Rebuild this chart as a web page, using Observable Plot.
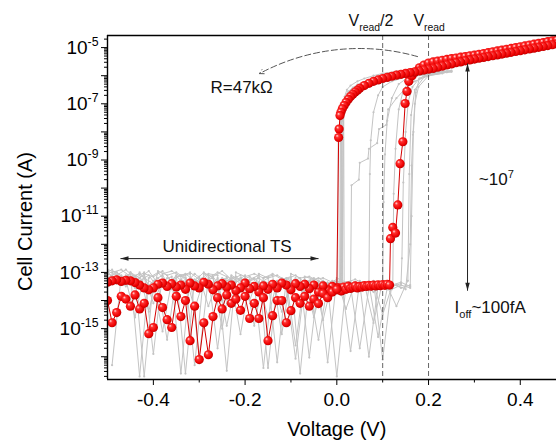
<!DOCTYPE html>
<html>
<head>
<meta charset="utf-8">
<script src="https://cdn.jsdelivr.net/npm/d3@7"></script>
<script src="https://cdn.jsdelivr.net/npm/@observablehq/plot@0.6"></script>
<style>
  html, body { margin: 0; padding: 0; background: #fff; }
  #chart { width: 556px; height: 440px; overflow: hidden; }
</style>
</head>
<body>
<div id="chart"></div>
<script>
// ======================= DATA (voltage in V, current as log10(I / A)) =======================

// --- red highlighted cycle ---
// 1) forward sweep, OFF state 0 -> 0.115 V
const redOffFwdV = [0.000,0.005,0.010,0.015,0.020,0.025,0.030,0.035,0.040,0.045,0.050,0.055,0.060,0.065,0.070,0.075,0.080,0.085,0.090,0.095,0.100,0.105,0.110,0.115];
const redOffFwdLog = [-13.62,-13.55,-13.66,-13.52,-13.6,-13.49,-13.57,-13.53,-13.48,-13.55,-13.5,-13.52,-13.47,-13.5,-13.46,-13.49,-13.45,-13.48,-13.44,-13.47,-13.43,-13.46,-13.42,-13.45];
// 2) threshold switching (set)
const redSetV = [0.117,0.122,0.128,0.133,0.138,0.144,0.149,0.153,0.157,0.164,0.170];
const redSetLog = [-11.8,-11.4,-11.6,-10.6,-9.13,-8.35,-6.99,-6.56,-6.2,-6.0,-5.88];
// 3) ON state forward up to 0.5 V
const redOnFwdV = [0.18,0.19,0.20,0.21,0.22,0.23,0.24,0.25,0.26,0.27,0.28,0.29,0.30,0.31,0.32,0.33,0.34,0.35,0.36,0.37,0.38,0.39,0.40,0.41,0.42,0.43,0.44,0.45,0.46,0.47,0.48,0.49,0.50];
const redOnFwdLog = [-5.72,-5.62,-5.55,-5.51,-5.48,-5.45,-5.42,-5.39,-5.37,-5.34,-5.32,-5.29,-5.27,-5.24,-5.21,-5.18,-5.15,-5.12,-5.09,-5.06,-5.03,-5.00,-4.97,-4.94,-4.91,-4.88,-4.85,-4.82,-4.79,-4.76,-4.73,-4.70,-4.67];
// 4) ON state backward 0.5 -> ~0 V
const redOnBackV = [0.50,0.49,0.48,0.47,0.46,0.45,0.44,0.43,0.42,0.41,0.40,0.39,0.38,0.37,0.36,0.35,0.34,0.33,0.32,0.31,0.30,0.29,0.28,0.27,0.26,0.25,0.24,0.23,0.22,0.21,0.20,0.19,0.18,0.17,0.16,0.15,0.14,0.13,0.12,0.11,0.10,0.09,0.08,0.07,0.06,0.05,0.045,0.04,0.035,0.03,0.025,0.02,0.016,0.012,0.009,0.007,0.005,0.004];
const redOnBackLog = [-4.82,-4.85,-4.87,-4.90,-4.93,-4.96,-4.99,-5.02,-5.05,-5.08,-5.11,-5.14,-5.17,-5.20,-5.23,-5.26,-5.29,-5.32,-5.35,-5.38,-5.41,-5.44,-5.47,-5.51,-5.54,-5.58,-5.62,-5.66,-5.70,-5.74,-5.77,-5.80,-5.83,-5.86,-5.89,-5.92,-5.95,-5.98,-6.02,-6.06,-6.10,-6.15,-6.20,-6.27,-6.35,-6.45,-6.52,-6.58,-6.66,-6.74,-6.84,-6.95,-7.06,-7.18,-7.30,-7.42,-7.90,-8.20];
// 5) negative sweep grid (-0.5 ... 0 V)
const vNeg = [-0.50,-0.49,-0.48,-0.47,-0.46,-0.45,-0.44,-0.43,-0.42,-0.41,-0.40,-0.39,-0.38,-0.37,-0.36,-0.35,-0.34,-0.33,-0.32,-0.31,-0.30,-0.29,-0.28,-0.27,-0.26,-0.25,-0.24,-0.23,-0.22,-0.21,-0.20,-0.19,-0.18,-0.17,-0.16,-0.15,-0.14,-0.13,-0.12,-0.11,-0.10,-0.09,-0.08,-0.07,-0.06,-0.05,-0.04,-0.03,-0.02,-0.01,0.00];
// OFF state, 0 -> -0.5 V (listed from 0 V downward)
const redOffBackLog = [-13.55,-13.5,-13.62,-13.48,-13.7,-13.45,-13.58,-13.42,-13.5,-13.4,-13.62,-13.45,-13.38,-13.55,-13.42,-13.6,-13.48,-13.7,-13.5,-13.58,-13.38,-13.55,-13.65,-13.45,-13.52,-13.40,-13.48,-13.62,-13.42,-13.35,-13.55,-13.48,-13.38,-13.6,-13.45,-13.52,-13.4,-13.5,-13.38,-13.42,-13.55,-13.62,-13.55,-13.45,-13.36,-13.3,-13.28,-13.32,-13.26,-13.3,-13.35];
// OFF state, -0.5 -> 0 V
const redOffRetLog = [-14.0,-14.79,-14.43,-13.85,-13.95,-14.2,-13.8,-14.3,-14.1,-15.18,-14.96,-13.9,-14.25,-14.68,-14.96,-13.85,-14.57,-14.0,-15.43,-14.2,-16.1,-14.79,-15.93,-14.57,-13.9,-14.3,-13.8,-14.1,-13.95,-14.35,-13.85,-14.64,-14.1,-14.64,-13.9,-15.43,-14.54,-14.0,-14.0,-14.79,-14.36,-13.9,-14.1,-13.85,-14.2,-13.95,-14.11,-13.75,-13.9,-13.7,-13.6];

// --- grey background cycles ---
const vGrayEven = [-0.50,-0.48,-0.46,-0.44,-0.42,-0.40,-0.38,-0.36,-0.34,-0.32,-0.30,-0.28,-0.26,-0.24,-0.22,-0.20,-0.18,-0.16,-0.14,-0.12,-0.10,-0.08,-0.06,-0.04,-0.02,0.00,0.02,0.04,0.06,0.08,0.10,0.12,0.14,0.16];
const vGrayOdd = [-0.49,-0.47,-0.45,-0.43,-0.41,-0.39,-0.37,-0.35,-0.33,-0.31,-0.29,-0.27,-0.25,-0.23,-0.21,-0.19,-0.17,-0.15,-0.13,-0.11,-0.09,-0.07,-0.05,-0.03,-0.01,0.01,0.03,0.05,0.07,0.09,0.11,0.13,0.15];

const g1Off = [-13.05,-13.2,-13.5,-13.15,-16.7,-13.3,-13.1,-13.6,-13.25,-13.4,-13.15,-14.2,-13.3,-13.2,-13.55,-13.25,-13.4,-16.4,-13.3,-13.5,-13.25,-13.6,-13.3,-13.45,-13.35,-13.6,-13.4,-13.55,-13.45,-13.7,-13.5,-13.6,-13.45,-13.55];
const g1SwV = [0.163,0.167,0.172,0.18,0.2,0.22,0.25,0.22,0.19,0.16,0.13,0.10,0.08,0.06,0.045,0.035,0.025,0.018,0.012,0.008,0.006];
const g1SwLog = [-11.0,-8.0,-6.6,-6.1,-5.92,-5.87,-5.82,-5.86,-5.9,-5.95,-6.0,-6.05,-6.12,-6.22,-6.32,-6.42,-6.56,-6.75,-7.0,-7.5,-13.7];

const g2Off = [-16.3,-13.1,-13.35,-13.0,-13.45,-13.2,-13.5,-13.1,-16.6,-13.25,-13.45,-13.15,-13.6,-13.3,-13.2,-13.5,-13.35,-14.6,-13.3,-13.5,-13.2,-13.65,-13.4,-13.3,-13.55,-13.45,-13.5,-15.7,-13.55,-13.4,-13.6];
const g2SwV = [0.122,0.124,0.128,0.135,0.145,0.16,0.18,0.21,0.24,0.21,0.18,0.15,0.12,0.09,0.07,0.05,0.035,0.025,0.017,0.011,0.007,0.003,0.002];
const g2SwLog = [-13.5,-10.2,-8.6,-7.2,-6.5,-6.15,-5.98,-5.9,-5.85,-5.88,-5.92,-5.97,-6.02,-6.1,-6.18,-6.3,-6.45,-6.6,-6.85,-7.2,-7.7,-8.0,-13.5];

const g3Off = [-12.95,-13.4,-13.1,-13.3,-13.05,-14.1,-13.3,-13.15,-16.6,-13.2,-13.35,-13.1,-15.7,-13.3,-13.15,-13.4,-13.2,-13.5,-13.3,-14.4,-13.35,-13.2,-16.03,-13.3,-13.5,-16.7,-13.45,-13.35,-13.6,-13.4,-14.5,-13.5,-13.4];
const g3SwV = [0.142,0.145,0.15,0.156,0.165,0.18,0.2,0.23,0.25,0.23,0.2,0.16,0.12,0.09,0.07,0.05,0.035,0.025,0.017,0.012,0.01,0.009];
const g3SwLog = [-12.5,-9.8,-8.0,-6.9,-6.4,-6.1,-5.96,-5.88,-5.86,-5.9,-5.94,-6.0,-6.08,-6.16,-6.24,-6.36,-6.5,-6.66,-6.9,-7.25,-7.6,-13.8];

const g4Off = [-13.15,-13.45,-13.0,-13.3,-13.1,-13.55,-13.2,-13.4,-13.1,-14.3,-13.25,-13.45,-13.2,-13.35,-15.2,-13.3,-13.2,-13.45,-13.3,-13.6,-16.07,-13.4,-13.3,-13.55,-13.4,-13.5,-13.35,-13.6,-13.45];
const g4SwV = [0.072,0.074,0.08,0.09,0.1,0.12,0.15,0.18,0.21,0.24,0.21,0.17,0.13,0.1,0.075,0.055,0.04,0.03,0.02,0.014,0.011,0.010];
const g4SwLog = [-9.5,-8.3,-7.3,-6.7,-6.4,-6.2,-6.05,-5.96,-5.9,-5.86,-5.9,-5.96,-6.03,-6.1,-6.2,-6.33,-6.48,-6.62,-6.85,-7.15,-7.55,-13.6];

const g5Off = [-13.2,-13.0,-13.3,-13.55,-13.2,-13.4,-15.1,-13.3,-13.1,-13.45,-13.25,-13.6,-13.2,-14.9,-13.35,-13.2,-13.5,-13.3,-13.45,-13.2,-13.6,-13.35,-13.5,-15.4,-13.45,-13.3,-13.55];
const g5SwV = [0.03,0.032,0.048,0.05,0.068,0.07,0.088,0.092,0.108,0.112,0.13,0.15,0.17,0.2,0.23,0.2,0.16,0.12,0.09,0.065,0.045,0.032,0.022,0.016,0.013,0.012];
const g5SwLog = [-13.5,-9.9,-9.7,-9.1,-8.95,-8.6,-8.4,-7.9,-7.75,-7.2,-6.8,-6.45,-6.2,-6.0,-5.92,-5.96,-6.02,-6.1,-6.2,-6.32,-6.48,-6.64,-6.85,-7.1,-7.6,-13.5];

const g6Off = [-12.9,-13.25,-13.05,-16.7,-13.2,-13.0,-13.35,-13.15,-13.4,-13.05,-13.3,-13.2,-14.0,-13.15,-13.4,-13.25,-13.1,-16.4,-13.35,-13.2,-13.45,-13.25,-14.6,-13.3,-13.5,-13.35,-13.55,-13.4,-16.0,-13.5];
const g6SwV = [0.1,0.102,0.105,0.11,0.12,0.135,0.16,0.19,0.22,0.25,0.22,0.19,0.16,0.13,0.1,0.08,0.06,0.045,0.03,0.022,0.017,0.014,0.01,0.008];
const g6SwLog = [-13.4,-10.5,-8.8,-7.6,-6.8,-6.3,-6.0,-5.85,-5.75,-5.7,-5.72,-5.76,-5.8,-5.85,-5.92,-6.0,-6.1,-6.2,-6.35,-6.5,-6.75,-7.1,-7.6,-13.4];

const g7Off = [-12.95,-13.1,-12.9,-13.2,-13.0,-15.9,-13.05,-12.95,-13.15,-13.0,-13.25,-13.05,-13.1,-16.5,-13.0,-13.15,-13.05,-13.2,-13.1,-15.2,-13.05,-13.2,-13.15,-13.3,-16.2,-13.2,-13.35,-13.25,-13.4,-14.8,-13.3,-13.45,-13.35,-13.5];
const g7SwV = [];
const g7SwLog = [];

const g8Off = [-13.0,-12.9,-13.15,-13.05,-14.4,-12.95,-13.1,-13.0,-13.2,-16.3,-13.05,-13.15,-12.95,-13.25,-13.1,-14.0,-13.05,-13.2,-13.1,-13.3,-15.6,-13.15,-13.25,-13.2,-13.35,-13.3,-15.8,-13.3,-13.45,-13.4,-13.5,-14.2,-13.45];
const g8SwV = [0.155,0.158,0.162,0.17,0.19,0.22,0.25,0.2,0.15,0.1,0.06,0.04,0.025,0.015,0.012];
const g8SwLog = [-13.3,-9.5,-7.4,-6.5,-6.05,-5.9,-5.85,-5.92,-6.0,-6.1,-6.25,-6.4,-6.65,-7.0,-13.6];

const g9Off = [-12.9,-13.0,-13.25,-14.6,-13.05,-13.15,-12.95,-13.3,-13.1,-13.05,-16.0,-13.2,-13.0,-13.15,-13.35,-13.1,-14.9,-13.2,-13.05,-13.25,-13.15,-16.6,-13.3,-13.2,-13.4,-13.25,-14.3,-13.35,-13.45,-13.3,-16.1,-13.4,-13.55,-13.45];
const g9SwV = [];
const g9SwLog = [];

const g10Off = [-13.1,-13.35,-13.0,-13.2,-12.95,-13.4,-15.4,-13.15,-13.05,-13.3,-13.0,-13.2,-15.0,-13.1,-13.3,-13.15,-13.4,-13.2,-16.2,-13.25,-13.1,-13.35,-13.2,-14.7,-13.3,-13.45,-13.35,-13.5,-13.4,-15.3,-13.55,-13.45,-13.6];
const g10SwV = [0.16,0.163,0.166,0.17,0.178,0.2,0.24,0.2,0.15,0.1,0.07,0.05,0.03,0.02,0.015,0.016];
const g10SwLog = [-12.0,-9.2,-8.1,-7.0,-6.4,-6.0,-5.88,-5.95,-6.02,-6.12,-6.22,-6.36,-6.6,-6.8,-7.3,-13.4];

// --- axes ---
const xTickValues = [-0.4, -0.2, 0.0, 0.2, 0.4];
const xMinorValues = [-0.3, -0.1, 0.1, 0.3];
const yLabelExponents = [-5, -7, -9, -11, -13, -15];
const yDecadeExponents = [-16, -15, -14, -13, -12, -11, -10, -9, -8, -7, -6, -5];
const xLabel = "Voltage (V)";
const yLabel = "Cell Current (A)";

// --- reference lines and annotations ---
const readVoltages = [0.1, 0.2];
const annText = ["V_{read}/2", "V_{read}", "R=47kΩ", "~10^{7}", "I_{off}~100fA", "Unidirectional TS"];
const annV = [0.0255, 0.167, -0.2754, 0.3096, 0.2567, -0.380];
const annLog = [-4.04, -4.04, -6.41, -9.70, -14.235, -12.064];
const annSize = [16, 16, 17, 17, 17, 17];
// double arrows: [v1, log1, v2, log2]
const tsArrow = [-0.4717, -12.509, -0.0399, -12.509];
const ratioArrow = [0.285, -5.57, 0.285, -13.65];
// curved arrow to R=47kΩ
const rArrow = [0.176, -5.32, -0.1686, -5.925];

// ======================= BUILD =======================
const rows = (vs, logs, extra = {}) => logs.map((l, k) => ({v: vs[k], i: 10 ** l, ...extra}));

const redRows = [
  ...rows(redOffFwdV, redOffFwdLog),
  ...rows(redSetV, redSetLog),
  ...rows(redOnFwdV, redOnFwdLog),
  ...rows(redOnBackV, redOnBackLog),
  ...rows(vNeg.slice().reverse(), redOffBackLog),
  ...rows(vNeg, redOffRetLog)
];

const grayCycles = [
  [vGrayEven, g1Off, g1SwV, g1SwLog],
  [vGrayOdd, g2Off, g2SwV, g2SwLog],
  [vGrayEven, g3Off, g3SwV, g3SwLog],
  [vGrayOdd, g4Off, g4SwV, g4SwLog],
  [vGrayEven, g5Off, g5SwV, g5SwLog],
  [vGrayOdd, g6Off, g6SwV, g6SwLog],
  [vGrayEven, g7Off, g7SwV, g7SwLog],
  [vGrayOdd, g8Off, g8SwV, g8SwLog],
  [vGrayEven, g9Off, g9SwV, g9SwLog],
  [vGrayOdd, g10Off, g10SwV, g10SwLog]
];
const grayRows = grayCycles.flatMap(([grid, off, sv, sl], c) => [
  ...rows(grid, off, {c}),
  ...rows(sv, sl, {c})
]);

const yMin = 10 ** -16.81, yMax = 10 ** -4.57;
const yMinor = [];
for (const e of [-17, ...yDecadeExponents]) for (const k of [2,3,4,5,6,7,8,9]) {
  const val = k * 10 ** e;
  if (val > yMin && val < yMax) yMinor.push(val);
}

const headSymbol = (dir) => ({
  draw(ctx, size) {
    const r = Math.sqrt(size / Math.PI), L = 1.6 * r, w = 0.45 * r;
    const p = {
      up: [[0, 0], [w, L], [-w, L]],
      down: [[0, 0], [w, -L], [-w, -L]],
      left: [[0, 0], [L, w], [L, -w]],
      right: [[0, 0], [-L, w], [-L, -w]]
    }[dir];
    ctx.moveTo(p[0][0], p[0][1]); ctx.lineTo(p[1][0], p[1][1]); ctx.lineTo(p[2][0], p[2][1]); ctx.closePath();
  }
});
const headDot = (v, l, dir) => Plot.dot([0], {x: () => v, y: () => 10 ** l, r: 5, symbol: headSymbol(dir), fill: "#222", stroke: "none"});

const font = "'Liberation Sans', Arial, Helvetica, sans-serif";

const svg = Plot.plot({
  width: 556,
  height: 440,
  marginLeft: 107,
  marginRight: 0,
  marginTop: 35,
  marginBottom: 61,
  style: {fontFamily: font, background: "#fff", color: "#000", overflow: "hidden"},
  x: {domain: [-0.5, 0.479]},
  y: {type: "log", domain: [yMin, yMax]},
  marks: [
    // grey cycles
    Plot.line(grayRows, {x: "v", y: "i", z: "c", stroke: "#c4c4c4", strokeWidth: 1, clip: true}),
    Plot.dot(grayRows, {x: "v", y: "i", r: 1.1, fill: "#c4c4c4", stroke: "none", clip: true}),
    // read voltages
    Plot.ruleX(readVoltages, {stroke: "#666", strokeWidth: 1, strokeDasharray: "5,3"}),
    // red cycle
    Plot.line(redRows, {x: "v", y: "i", stroke: "#d40000", strokeWidth: 1, clip: true}),
    Plot.dot(redRows, {x: "v", y: "i", r: 4.6, fill: "url(#ball)", stroke: "none", clip: true}),
    // frame
    Plot.ruleX([-0.5], {stroke: "#000", strokeWidth: 1.4}),
    Plot.ruleY([yMin, yMax], {stroke: "#000", strokeWidth: 1.4}),
    // axes
    Plot.axisX(xTickValues, {tickSize: 6, tickPadding: 7, fontSize: 19, label: null, tickFormat: d => d.toFixed(1)}),
    Plot.axisX(xMinorValues, {tickSize: 3.5, label: null, tickFormat: () => ""}),
    Plot.axisY(yDecadeExponents.map(e => 10 ** e), {tickSize: 6, tickPadding: 3, fontSize: 19, label: null,
      tickFormat: d => { const e = Math.round(Math.log10(d)); return yLabelExponents.includes(e) ? `10^{${e}}` : ""; }}),
    Plot.axisY(yMinor, {tickSize: 3, label: null, tickFormat: () => ""}),
    Plot.text([xLabel], {x: () => 0, frameAnchor: "bottom", dy: 50, fontSize: 20, textAnchor: "middle", lineAnchor: "middle"}),
    Plot.text([yLabel], {frameAnchor: "left", dx: -82, dy: 14, rotate: -90, fontSize: 20, textAnchor: "middle", lineAnchor: "middle"}),
    // annotations
    Plot.text(annText.map((t, k) => k), {
      x: k => annV[k], y: k => 10 ** annLog[k], text: k => annText[k], fontSize: k => annSize[k],
      textAnchor: "start", lineAnchor: "middle", fill: "#111"
    }),
    Plot.link([tsArrow, ratioArrow], {x1: d => d[0], y1: d => 10 ** d[1], x2: d => d[2], y2: d => 10 ** d[3], stroke: "#222", strokeWidth: 1}),
    headDot(tsArrow[0], tsArrow[1], "left"),
    headDot(tsArrow[2], tsArrow[3], "right"),
    headDot(ratioArrow[0], ratioArrow[1], "up"),
    headDot(ratioArrow[2], ratioArrow[3], "down"),
    Plot.arrow([rArrow], {x1: d => d[0], y1: d => 10 ** d[1], x2: d => d[2], y2: d => 10 ** d[3],
      bend: -22, headLength: 7, stroke: "#555", strokeWidth: 1, strokeDasharray: "6,3"})
  ]
});

// radial gradient for the glossy red markers
const defs = d3.select(svg).insert("defs", ":first-child");
const grad = defs.append("radialGradient").attr("id", "ball")
  .attr("cx", "45%").attr("cy", "45%").attr("r", "60%").attr("fx", "32%").attr("fy", "30%");
grad.append("stop").attr("offset", "0%").attr("stop-color", "#ffe4e4");
grad.append("stop").attr("offset", "28%").attr("stop-color", "#ff3030");
grad.append("stop").attr("offset", "75%").attr("stop-color", "#ec0000");
grad.append("stop").attr("offset", "100%").attr("stop-color", "#b00000");

document.getElementById("chart").appendChild(svg);

// turn ^{..} and _{..} into real superscript / subscript tspans
d3.select(svg).selectAll("text").each(function () {
  const el = this;
  const t = el.textContent;
  if (!/[\^_]\{/.test(t)) return;
  const parts = [];
  const re = /([\^_])\{([^}]*)\}/g;
  let last = 0, m;
  while ((m = re.exec(t))) {
    if (m.index > last) parts.push({s: t.slice(last, m.index), type: ""});
    parts.push({s: m[2], type: m[1]});
    last = re.lastIndex;
  }
  if (last < t.length) parts.push({s: t.slice(last), type: ""});
  const fs = parseFloat(getComputedStyle(el).fontSize) || 17;
  while (el.firstChild) el.removeChild(el.firstChild);
  let shift = 0;
  for (const p of parts) {
    const ts = document.createElementNS("http://www.w3.org/2000/svg", "tspan");
    let target = 0;
    if (p.type === "^") { target = -0.42 * fs; ts.setAttribute("font-size", (0.65 * fs).toFixed(1)); }
    else if (p.type === "_") { target = 0.3 * fs; ts.setAttribute("font-size", (0.65 * fs).toFixed(1)); }
    ts.setAttribute("dy", (target - shift).toFixed(2));
    shift = target;
    ts.textContent = p.s;
    el.appendChild(ts);
  }
});
</script>
</body>
</html>
